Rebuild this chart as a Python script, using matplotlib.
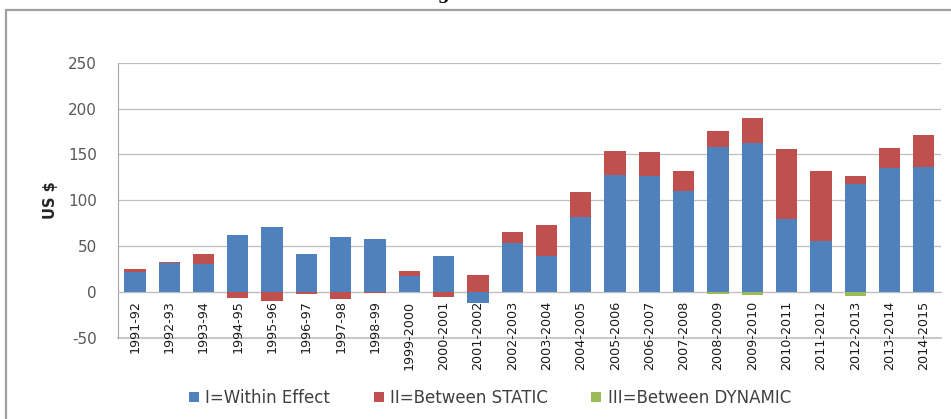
import numpy as np
import matplotlib.pyplot as plt
from matplotlib.patches import Rectangle

plt.rcParams["axes.unicode_minus"] = False

# ====== DATA ======
years = ["1991-92", "1992-93", "1993-94", "1994-95", "1995-96", "1996-97",
         "1997-98", "1998-99", "1999-2000", "2000-2001", "2001-2002",
         "2002-2003", "2003-2004", "2004-2005", "2005-2006", "2006-2007",
         "2007-2008", "2008-2009", "2009-2010", "2010-2011", "2011-2012",
         "2012-2013", "2013-2014", "2014-2015"]

within_effect = [22, 32, 31, 62, 71, 42, 60, 58, 18, 39, -12, 53, 39, 82,
                 128, 127, 110, 158, 162, 80, 56, 118, 135, 136]
between_static = [3, 1, 10, -6, -10, -2, -8, -1, 5, -5, 19, 13, 34, 27,
                  26, 26, 22, 18, 28, 76, 76, 8, 22, 35]
between_dynamic = [0, 0, 0, 0, 0, 0, 0, 0, 0, 0, 0, 0, 0, 0,
                   0, 0, 0, -2, -3, 0, 0, -4, 0, 0]

series = [("I=Within Effect", within_effect, "#4F81BD"),
          ("II=Between STATIC", between_static, "#C0504D"),
          ("III=Between DYNAMIC", between_dynamic, "#9BBB59")]

# ====== FIGURE ======
fig = plt.figure(figsize=(9.51, 4.19), dpi=100)
ax = fig.add_axes([0.1238, 0.1933, 0.8657, 0.6571])

# category labels sit at the zero line (set before the tick labels,
# moving the spine resets them)
ax.spines["bottom"].set_position(("data", 0))
ax.spines["bottom"].set_color("#BFBFBF")
ax.spines["left"].set_color("#A6A6A6")
ax.spines["top"].set_visible(False)
ax.spines["right"].set_visible(False)

x = np.arange(len(years))
pos_bottom = np.zeros(len(years))
neg_bottom = np.zeros(len(years))

# stacked bars, positives and negatives stacked separately from zero
for name, vals, col in series:
    vals = np.array(vals, dtype=float)
    bottom = np.where(vals >= 0, pos_bottom, neg_bottom)
    ax.bar(x, vals, width=0.62, bottom=bottom, color=col, label=name, zorder=3)
    pos_bottom += np.clip(vals, 0, None)
    neg_bottom += np.clip(vals, None, 0)

ax.set_xlim(-0.5, len(years) - 0.5)
ax.set_ylim(-50, 250)
ax.set_yticks(range(-50, 251, 50))
ax.yaxis.grid(True, color="#BFBFBF", linewidth=0.9, zorder=0)
ax.axhline(-50, color="#BFBFBF", linewidth=1.2, zorder=0, clip_on=False)
ax.set_axisbelow(True)

ax.set_xticks(x)
ax.set_xticklabels(years, rotation=90, fontsize=9.2, color="#1a1a1a",
                   ha="center", va="top")
ax.tick_params(axis="x", length=0, pad=6)
ax.tick_params(axis="y", length=0, pad=15, labelsize=11, labelcolor="#595959")

fig.text(0.053, 0.523, "US $", rotation=90, fontsize=10.5, fontweight="bold",
         ha="center", va="center", color="#262626")

fig.legend(loc="center", bbox_to_anchor=(490 / 951, 0.05), ncol=3, frameon=False,
           fontsize=12, handlelength=0.6, handleheight=0.6, handletextpad=0.4,
           columnspacing=2.6, labelcolor="#404040")

# outer chart frame and clipped caption above it
fig.patches.append(Rectangle((6 / 951, -0.05), 1.1, 1 - 10 / 419 + 0.05,
                             transform=fig.transFigure, fill=False,
                             edgecolor="#A0A0A0", linewidth=1.6))
fig.text(443 / 951, 1 - 3 / 419, "g", fontsize=12, fontweight="bold",
         family="DejaVu Serif", ha="center", va="bottom", color="black")

plt.savefig("out.png", dpi=100)
